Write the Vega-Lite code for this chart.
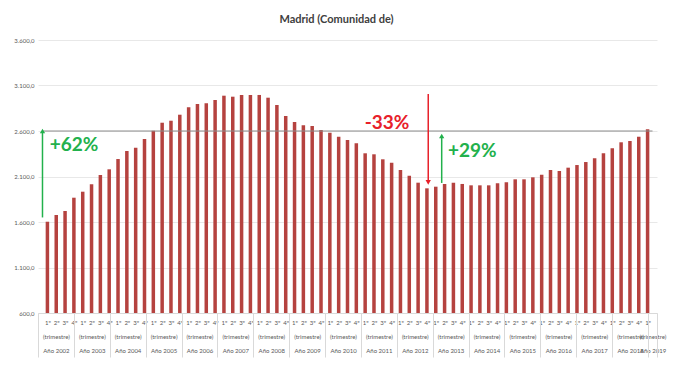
{
  "$schema": "https://vega.github.io/schema/vega-lite/v6.json",
  "width": 619,
  "height": 273,
  "autosize": "none",
  "padding": {"left": 38, "top": 40, "right": 22, "bottom": 57},
  "background": "white",
  "config": {
    "locale": {"number": {"decimal": ",", "thousands": ".", "grouping": [3], "currency": ["", " €"]}},
    "view": {"stroke": null},
    "font": "Lato"
  },
  "title": {"text": "Madrid (Comunidad de)", "fontSize": 11, "fontWeight": "bold", "color": "#404040", "anchor": "middle", "dx": -11, "offset": 12, "font": "Lato"},
  "datasets": {
    "bars": [
      {"i": 1, "value": 1603}, {"i": 2, "value": 1677}, {"i": 3, "value": 1721}, {"i": 4, "value": 1867},
      {"i": 5, "value": 1933}, {"i": 6, "value": 2014}, {"i": 7, "value": 2116}, {"i": 8, "value": 2179},
      {"i": 9, "value": 2292}, {"i": 10, "value": 2380}, {"i": 11, "value": 2417}, {"i": 12, "value": 2512},
      {"i": 13, "value": 2603}, {"i": 14, "value": 2691}, {"i": 15, "value": 2713}, {"i": 16, "value": 2779},
      {"i": 17, "value": 2860}, {"i": 18, "value": 2897}, {"i": 19, "value": 2904}, {"i": 20, "value": 2941},
      {"i": 21, "value": 2988}, {"i": 22, "value": 2977}, {"i": 23, "value": 2996}, {"i": 24, "value": 2996},
      {"i": 25, "value": 2996}, {"i": 26, "value": 2966}, {"i": 27, "value": 2886}, {"i": 28, "value": 2765},
      {"i": 29, "value": 2699}, {"i": 30, "value": 2663}, {"i": 31, "value": 2655}, {"i": 32, "value": 2611},
      {"i": 33, "value": 2581}, {"i": 34, "value": 2537}, {"i": 35, "value": 2501}, {"i": 36, "value": 2465},
      {"i": 37, "value": 2355}, {"i": 38, "value": 2344}, {"i": 39, "value": 2289}, {"i": 40, "value": 2252},
      {"i": 41, "value": 2171}, {"i": 42, "value": 2109}, {"i": 43, "value": 2032}, {"i": 44, "value": 1970},
      {"i": 45, "value": 1988}, {"i": 46, "value": 2018}, {"i": 47, "value": 2032}, {"i": 48, "value": 2018},
      {"i": 49, "value": 2003}, {"i": 50, "value": 2003}, {"i": 51, "value": 2003}, {"i": 52, "value": 2025},
      {"i": 53, "value": 2036}, {"i": 54, "value": 2069}, {"i": 55, "value": 2069}, {"i": 56, "value": 2091},
      {"i": 57, "value": 2120}, {"i": 58, "value": 2171}, {"i": 59, "value": 2160}, {"i": 60, "value": 2197},
      {"i": 61, "value": 2226}, {"i": 62, "value": 2259}, {"i": 63, "value": 2300}, {"i": 64, "value": 2355},
      {"i": 65, "value": 2410}, {"i": 66, "value": 2476}, {"i": 67, "value": 2490}, {"i": 68, "value": 2537},
      {"i": 69, "value": 2618}
    ],
    "arrows": [
      {"x": 1, "y": 1650, "y2": 2600, "dir": "up"},
      {"x": 44, "y": 3007, "y2": 2035, "dir": "down"},
      {"x": 45.5, "y": 2029, "y2": 2545, "dir": "up"}
    ],
    "labels": [
      {"x": 1.8, "y": 2446, "label": "+62%", "dir": "up"},
      {"x": 41.9, "y": 2688, "label": "-33%", "dir": "down"},
      {"x": 46.2, "y": 2384, "label": "+29%", "dir": "up"}
    ]
  },
  "layer": [
    {
      "data": {"name": "bars"},
      "mark": {"type": "bar", "size": 3.5, "color": "#b5423f"},
      "encoding": {
        "x": {
          "field": "i", "type": "quantitative",
          "scale": {"domain": [0.5, 69.5], "nice": false, "zero": false},
          "axis": {
            "orient": "bottom",
            "values": [1,2,3,4,5,6,7,8,9,10,11,12,13,14,15,16,17,18,19,20,21,22,23,24,25,26,27,28,29,30,31,32,33,34,35,36,37,38,39,40,41,42,43,44,45,46,47,48,49,50,51,52,53,54,55,56,57,58,59,60,61,62,63,64,65,66,67,68,69],
            "labelExpr": "['1º','2º','3º','4º'][(datum.value - 1) % 4]",
            "ticks": false, "grid": false, "domainColor": "#d9d9d9",
            "labelFontSize": 6, "labelColor": "#595959", "labelPadding": 6,
            "labelOverlap": false, "labelFlush": false, "title": null
          }
        },
        "y": {
          "field": "value", "type": "quantitative",
          "scale": {"domain": [600, 3600], "nice": false, "zero": false},
          "axis": {
            "values": [600, 1100, 1600, 2100, 2600, 3100, 3600],
            "format": ",.1f", "grid": true, "gridColor": "#e8e8e8", "domain": false, "ticks": false,
            "labelFontSize": 6, "labelColor": "#595959", "labelPadding": 4, "title": null
          }
        },
        "y2": {"datum": 600}
      }
    },
    {
      "data": {"values": [{"x": 1, "x2": 69, "y": 2600}]},
      "mark": {"type": "rule", "color": "#8c8c8c", "strokeWidth": 1},
      "encoding": {
        "x": {
          "field": "x", "type": "quantitative",
          "scale": {"domain": [0.5, 69.5], "nice": false, "zero": false},
          "axis": {
            "orient": "bottom",
            "values": [2.5, 6.5, 10.5, 14.5, 18.5, 22.5, 26.5, 30.5, 34.5, 38.5, 42.5, 46.5, 50.5, 54.5, 58.5, 62.5, 66.5, 69],
            "labelExpr": "['(trimestre)', 'Año ' + (2002 + floor((datum.value - 0.5) / 4))]",
            "ticks": false, "domain": false, "grid": false,
            "labelFontSize": 6, "labelColor": "#595959", "labelPadding": 20, "labelLineHeight": 14,
            "labelOverlap": false, "labelFlush": false, "title": null
          }
        },
        "x2": {"field": "x2"},
        "y": {"field": "y", "type": "quantitative", "title": null}
      }
    },
    {
      "data": {"name": "arrows"},
      "mark": {"type": "rule", "strokeWidth": 1.5},
      "encoding": {
        "x": {
          "field": "x", "type": "quantitative",
          "scale": {"domain": [0.5, 69.5], "nice": false, "zero": false},
          "axis": {
            "orient": "bottom",
            "values": [0.5, 4.5, 8.5, 12.5, 16.5, 20.5, 24.5, 28.5, 32.5, 36.5, 40.5, 44.5, 48.5, 52.5, 56.5, 60.5, 64.5, 68.5, 69.5],
            "labels": false, "ticks": true, "tickSize": 44, "tickColor": "#d9d9d9",
            "domain": false, "grid": false, "title": null
          }
        },
        "y": {"field": "y", "type": "quantitative", "title": null},
        "y2": {"field": "y2"},
        "color": {"field": "dir", "type": "nominal", "scale": {"domain": ["up", "down"], "range": ["#22b14c", "#e8202a"]}, "legend": null}
      }
    },
    {
      "data": {"name": "arrows"},
      "mark": {"type": "point", "filled": true, "size": 28, "opacity": 1},
      "encoding": {
        "x": {"field": "x", "type": "quantitative", "scale": {"domain": [0.5, 69.5], "nice": false, "zero": false}, "axis": null},
        "y": {"field": "y2", "type": "quantitative", "title": null},
        "shape": {"field": "dir", "type": "nominal", "scale": {"domain": ["up", "down"], "range": ["triangle-up", "triangle-down"]}, "legend": null},
        "color": {"field": "dir", "type": "nominal", "legend": null}
      }
    },
    {
      "data": {"name": "labels"},
      "transform": [{"filter": "datum.dir === 'up'"}],
      "mark": {"type": "text", "align": "left", "baseline": "middle", "fontSize": 19, "fontWeight": "bold", "font": "Lato"},
      "encoding": {
        "x": {"field": "x", "type": "quantitative", "scale": {"domain": [0.5, 69.5], "nice": false, "zero": false}, "axis": null},
        "y": {"field": "y", "type": "quantitative", "title": null},
        "text": {"field": "label"},
        "color": {"field": "dir", "type": "nominal", "legend": null}
      }
    },
    {
      "data": {"name": "labels"},
      "transform": [{"filter": "datum.dir === 'down'"}],
      "mark": {"type": "text", "align": "right", "baseline": "middle", "fontSize": 19, "fontWeight": "bold", "font": "Lato"},
      "encoding": {
        "x": {"field": "x", "type": "quantitative", "scale": {"domain": [0.5, 69.5], "nice": false, "zero": false}, "axis": null},
        "y": {"field": "y", "type": "quantitative", "title": null},
        "text": {"field": "label"},
        "color": {"field": "dir", "type": "nominal", "legend": null}
      }
    }
  ],
  "resolve": {"scale": {"x": "independent"}, "axis": {"x": "independent"}}
}
